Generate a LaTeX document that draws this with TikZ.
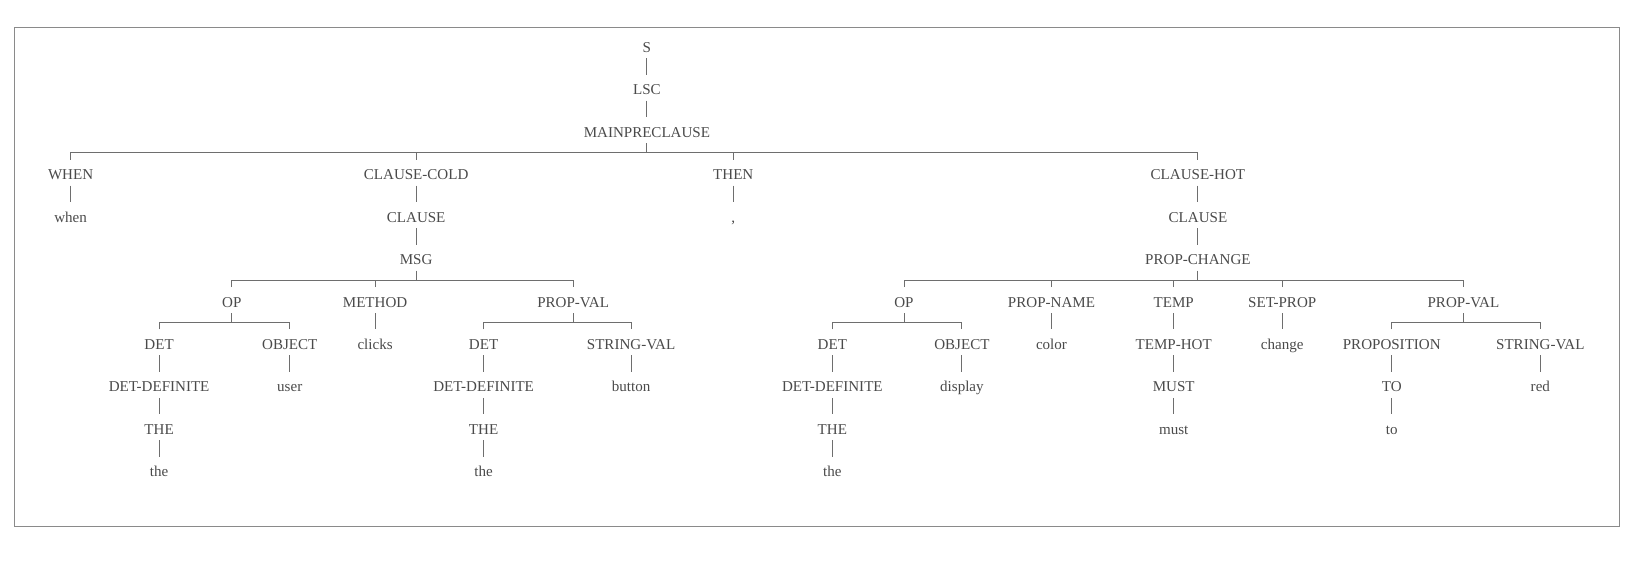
\documentclass[tikz,border=0pt]{standalone}
\usepackage{fontspec}
\setmainfont{Liberation Serif}
\definecolor{txt}{HTML}{4A4A4A}
\definecolor{ln}{HTML}{6E6E6E}
\definecolor{frm}{HTML}{8A8A8A}
\tikzset{
  lbl/.style={anchor=base, yshift=-3.3pt, inner sep=0pt, text height=13.1pt, text depth=3.7pt,
              font=\fontsize{10}{12}\selectfont, text=txt},
  con/.style={draw=ln, line width=0.6pt}
}
\newcommand\tsingle[2]{\draw[con] (#1.south) -- (#2.north);}
\newcommand\tbranch[3]{%
  \draw[con] (#1.south) -- ++(0,9) coordinate (#1bar);
  \draw[con] (#2.north) -- (#2.north |- #1bar) -- (#3.north |- #1bar) -- (#3.north);}
\newcommand\ttick[2]{\draw[con] (#2.north) -- (#2.north |- #1bar);}
\begin{document}
\begin{tikzpicture}[x=0.7pt,y=-0.7pt]
\useasboundingbox (0,0) rectangle (1568,534);
\draw[draw=frm, line width=0.6pt] (14,26) rectangle (1537,500);
% rows
\node[lbl] (s) at (614,45) {S};
\node[lbl] (lsc) at (614,85.3) {LSC};
\node[lbl] (mp) at (614,125.6) {MAINPRECLAUSE};
% row 3
\node[lbl] (when) at (67,165.9) {WHEN};
\node[lbl] (cc) at (395,165.9) {CLAUSE-COLD};
\node[lbl] (then) at (696,165.9) {THEN};
\node[lbl] (ch) at (1137,165.9) {CLAUSE-HOT};
% row 4
\node[lbl] (whenw) at (67,206.2) {when};
\node[lbl] (cl1) at (395,206.2) {CLAUSE};
\node[lbl] (comma) at (696,206.2) {,};
\node[lbl] (cl2) at (1137,206.2) {CLAUSE};
% row 5
\node[lbl] (msg) at (395,246.5) {MSG};
\node[lbl] (pc) at (1137,246.5) {PROP-CHANGE};
% row 6
\node[lbl] (op1) at (220,286.8) {OP};
\node[lbl] (meth) at (356,286.8) {METHOD};
\node[lbl] (pv1) at (544,286.8) {PROP-VAL};
\node[lbl] (op2) at (858,286.8) {OP};
\node[lbl] (pn) at (998,286.8) {PROP-NAME};
\node[lbl] (temp) at (1114,286.8) {TEMP};
\node[lbl] (sp) at (1217,286.8) {SET-PROP};
\node[lbl] (pv2) at (1389,286.8) {PROP-VAL};
% row 7
\node[lbl] (det1) at (151,327) {DET};
\node[lbl] (obj1) at (275,327) {OBJECT};
\node[lbl] (clicks) at (356,327) {clicks};
\node[lbl] (det2) at (459,327) {DET};
\node[lbl] (sv1) at (599,327) {STRING-VAL};
\node[lbl] (det3) at (790,327) {DET};
\node[lbl] (obj2) at (913,327) {OBJECT};
\node[lbl] (color) at (998,327) {color};
\node[lbl] (th) at (1114,327) {TEMP-HOT};
\node[lbl] (change) at (1217,327) {change};
\node[lbl] (prop) at (1321,327) {PROPOSITION};
\node[lbl] (sv2) at (1462,327) {STRING-VAL};
% row 8
\node[lbl] (dd1) at (151,367.3) {DET-DEFINITE};
\node[lbl] (user) at (275,367.3) {user};
\node[lbl] (dd2) at (459,367.3) {DET-DEFINITE};
\node[lbl] (button) at (599,367.3) {button};
\node[lbl] (dd3) at (790,367.3) {DET-DEFINITE};
\node[lbl] (display) at (913,367.3) {display};
\node[lbl] (must) at (1114,367.3) {MUST};
\node[lbl] (to) at (1321,367.3) {TO};
\node[lbl] (red) at (1462,367.3) {red};
% row 9
\node[lbl] (the1) at (151,407.6) {THE};
\node[lbl] (the2) at (459,407.6) {THE};
\node[lbl] (the3) at (790,407.6) {THE};
\node[lbl] (mustw) at (1114,407.6) {must};
\node[lbl] (tow) at (1321,407.6) {to};
% row 10
\node[lbl] (thew1) at (151,448) {the};
\node[lbl] (thew2) at (459,448) {the};
\node[lbl] (thew3) at (790,448) {the};
% single connectors
\tsingle{s}{lsc}
\tsingle{lsc}{mp}
\tsingle{when}{whenw}
\tsingle{cc}{cl1}
\tsingle{cl1}{msg}
\tsingle{then}{comma}
\tsingle{ch}{cl2}
\tsingle{cl2}{pc}
\tsingle{meth}{clicks}
\tsingle{det1}{dd1}
\tsingle{dd1}{the1}
\tsingle{the1}{thew1}
\tsingle{obj1}{user}
\tsingle{det2}{dd2}
\tsingle{dd2}{the2}
\tsingle{the2}{thew2}
\tsingle{sv1}{button}
\tsingle{det3}{dd3}
\tsingle{dd3}{the3}
\tsingle{the3}{thew3}
\tsingle{obj2}{display}
\tsingle{pn}{color}
\tsingle{temp}{th}
\tsingle{th}{must}
\tsingle{must}{mustw}
\tsingle{sp}{change}
\tsingle{prop}{to}
\tsingle{to}{tow}
\tsingle{sv2}{red}
% branches
\tbranch{mp}{when}{ch}
\ttick{mp}{cc}
\ttick{mp}{then}
\tbranch{msg}{op1}{pv1}
\ttick{msg}{meth}
\tbranch{op1}{det1}{obj1}
\tbranch{pv1}{det2}{sv1}
\tbranch{pc}{op2}{pv2}
\ttick{pc}{pn}
\ttick{pc}{temp}
\ttick{pc}{sp}
\tbranch{op2}{det3}{obj2}
\tbranch{pv2}{prop}{sv2}
\end{tikzpicture}
\end{document}
